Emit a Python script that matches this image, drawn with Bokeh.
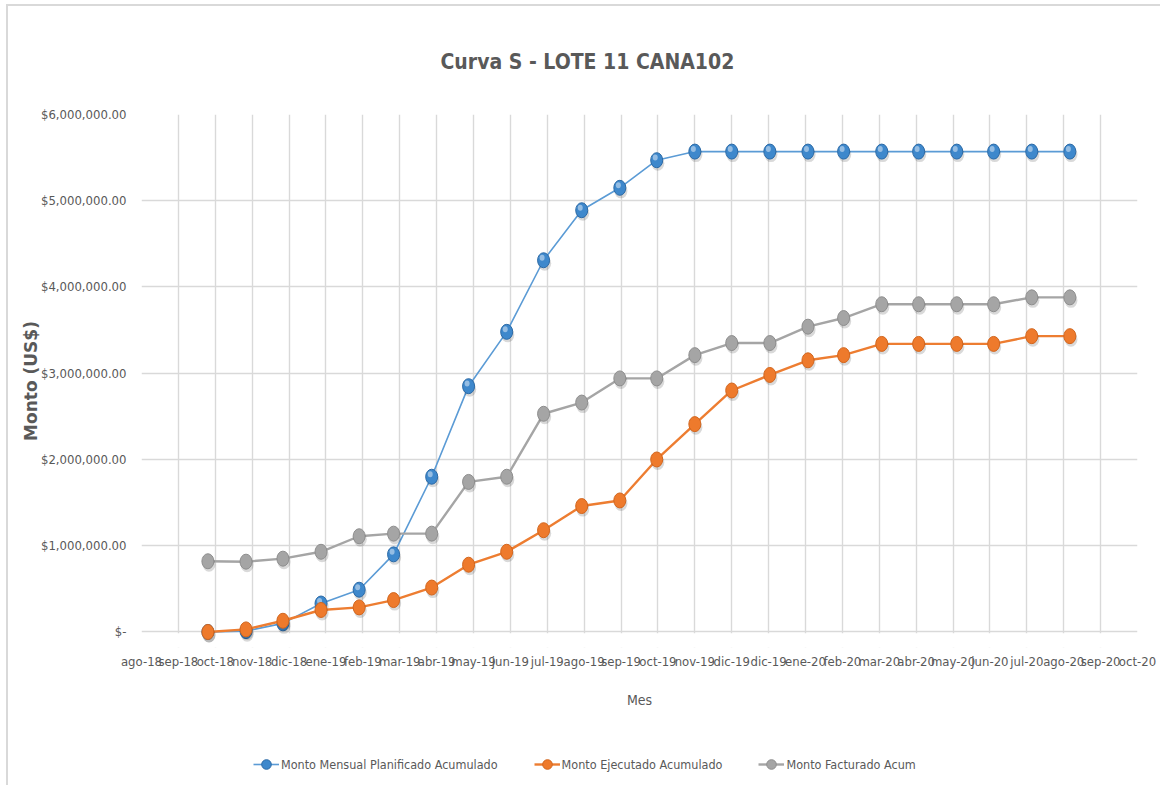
import numpy as np
from bokeh.plotting import figure
from bokeh.layouts import column
from bokeh.models import (Range1d, FixedTicker, NumeralTickFormatter, Legend,
                          LegendItem, BoxAnnotation, ColumnDataSource)
from bokeh.transform import dodge
from bokeh.embed import file_html
from bokeh.resources import INLINE

# ---------------- data ----------------
months = ["2018-10-01", "2018-11-01", "2018-12-01", "2019-01-01", "2019-02-01", "2019-03-01",
          "2019-04-01", "2019-05-01", "2019-06-01", "2019-07-01", "2019-08-01", "2019-09-01",
          "2019-10-01", "2019-11-01", "2019-12-01", "2020-01-01", "2020-02-01", "2020-03-01",
          "2020-04-01", "2020-05-01", "2020-06-01", "2020-07-01", "2020-08-01", "2020-09-01"]

planificado = [0, 10000, 100000, 330000, 490000, 900000, 1800000, 2850000, 3480000, 4310000,
               4890000, 5150000, 5470000, 5570000, 5570000, 5570000, 5570000, 5570000,
               5570000, 5570000, 5570000, 5570000, 5570000, 5570000]

ejecutado = [0, 30000, 130000, 255000, 285000, 370000, 515000, 780000, 930000, 1180000,
             1460000, 1525000, 2000000, 2410000, 2800000, 2980000, 3150000, 3210000,
             3340000, 3340000, 3340000, 3340000, 3430000, 3430000]

facturado = [820000, 815000, 850000, 930000, 1110000, 1140000, 1140000, 1740000, 1800000,
             2530000, 2660000, 2940000, 2940000, 3210000, 3350000, 3350000, 3540000, 3640000,
             3800000, 3800000, 3800000, 3800000, 3880000, 3880000]

series_names = ["Monto Mensual Planificado Acumulado", "Monto Ejecutado Acumulado",
                "Monto Facturado Acum"]

x_tick_labels = ["ago-18", "sep-18", "oct-18", "nov-18", "dic-18", "ene-19", "feb-19", "mar-19",
                 "abr-19", "may-19", "jun-19", "jul-19", "ago-19", "sep-19", "oct-19", "nov-19",
                 "dic-19", "dic-19", "ene-20", "feb-20", "mar-20", "abr-20", "may-20", "jun-20",
                 "jul-20", "ago-20", "sep-20", "oct-20"]
axis_start = "2018-08-08"     # first date tick of the Excel date axis
tick_step_days = 30           # major unit (days)

y_ticks = [0, 1000000, 2000000, 3000000, 4000000, 5000000, 6000000]

title_text = "Curva S - LOTE 11 CANA102"
x_title = "Mes"
y_title = "Monto (US$)"

# ---------------- derived ----------------
origin = np.datetime64(axis_start, "D")
xdays = (np.array(months, dtype="datetime64[D]") - origin).astype(int)
x_ticks = [i * tick_step_days for i in range(len(x_tick_labels))]

src = ColumnDataSource(dict(x=xdays, p=planificado, e=ejecutado, f=facturado))

FONT = "'DejaVu Sans Condensed', 'DejaVu Sans', sans-serif"
TXT = "#595959"

p = figure(frame_width=994, frame_height=531,
           min_border_left=133, min_border_right=25, min_border_top=94, min_border_bottom=100,
           x_range=Range1d(x_ticks[0], x_ticks[-1]), y_range=Range1d(-180000, 6000000),
           output_backend="svg", toolbar_location=None, title=title_text)
p.styles = {"border-left": "2px solid #D9D9D9", "border-top": "2px solid #D9D9D9",
            "margin-left": "6px", "margin-top": "4px"}

p.background_fill_color = "white"
p.border_fill_color = "white"
p.outline_line_color = None

p.title.align = "left"
p.title.offset = 299
p.title.standoff = 82
p.title.text_font = FONT
p.title.text_font_size = "21px"
p.title.text_font_style = "bold"
p.title.text_color = TXT

# axes
xa = p.xaxis[0]
xa.ticker = FixedTicker(ticks=x_ticks)
xa.major_label_overrides = {t: lab for t, lab in zip(x_ticks, x_tick_labels)}
xa.axis_line_color = None
xa.major_tick_line_color = None
xa.minor_tick_line_color = None
xa.major_label_standoff = 0
xa.major_label_text_font = FONT
xa.major_label_text_font_size = "13px"
xa.major_label_text_color = TXT
xa.axis_label = x_title
xa.axis_label_text_font = FONT
xa.axis_label_text_font_size = "14px"
xa.axis_label_text_font_style = "normal"
xa.axis_label_text_color = TXT
xa.axis_label_standoff = 20

ya = p.yaxis[0]
ya.ticker = FixedTicker(ticks=y_ticks)
ya.formatter = NumeralTickFormatter(format="$0,0.00")
ya.major_label_overrides = {0: "$-"}
ya.axis_line_color = None
ya.major_tick_line_color = None
ya.minor_tick_line_color = None
ya.major_label_standoff = 9
ya.major_label_text_font = FONT
ya.major_label_text_font_size = "13px"
ya.major_label_text_color = TXT
ya.axis_label = y_title
ya.axis_label_text_font = "DejaVu Sans"
ya.axis_label_text_font_size = "17px"
ya.axis_label_text_font_style = "bold"
ya.axis_label_text_color = TXT
ya.axis_label_standoff = -3

for g in (p.xgrid[0], p.ygrid[0]):
    g.grid_line_color = "#D9D9D9"
    g.grid_line_width = 1.4

# hide vertical grid lines below the zero line
p.add_layout(BoxAnnotation(top=-14000, fill_color="white", fill_alpha=1.0,
                           line_alpha=0, level="underlay"))

styles = [
    ("p", "#5B9BD5", 1.6, "#3E88CC", "#2C6AA6", True),
    ("e", "#ED7D31", 2.4, "#EE7A2C", "#D2661E", False),
    ("f", "#A5A5A5", 2.4, "#A5A5A5", "#8E8E8E", False),
]
for (col, lc, lw, fc, oc, gloss) in styles:
    p.line("x", col, source=src, line_color=lc, line_width=lw)
    p.ellipse(dodge("x", 0.9), dodge(col, -35000), width=13, height=15,
              width_units="screen", height_units="screen", source=src,
              fill_color="black", fill_alpha=0.15, line_color=None)
    p.ellipse("x", col, width=12, height=15, width_units="screen", height_units="screen",
              source=src, fill_color=fc, line_color=oc, line_width=1)
    if gloss:
        p.ellipse(dodge("x", -1.2), dodge(col, 30000), width=5, height=6,
                  width_units="screen", height_units="screen", source=src,
                  fill_color="white", fill_alpha=0.45, line_color=None)

# ---------------- legend strip (separate small figure below the chart) ----------------
# its ranges lie outside the data, so only the legend entries are visible
pl = figure(width=1150, height=40, min_border=0, toolbar_location=None, output_backend="svg",
            x_range=Range1d(-2, -1), y_range=Range1d(-2e7, -1e7),
            x_axis_location=None, y_axis_location=None)
pl.styles = {"border-left": "2px solid #D9D9D9", "margin-left": "6px"}
pl.grid.visible = False
pl.outline_line_color = None
pl.background_fill_color = "white"
pl.border_fill_color = "white"

items = []
for (col, lc, lw, fc, oc, gloss), name in zip(styles, series_names):
    lln = pl.line("x", col, source=src, line_color=lc, line_width=lw)
    lmk = pl.scatter("x", col, source=src, marker="circle", fill_color=fc, line_color=oc)
    items.append(LegendItem(label=name, renderers=[lln, lmk]))

legend = Legend(items=items, orientation="horizontal", location=(112, 9), margin=0,
                padding=0, spacing=36, glyph_width=26, glyph_height=24, label_standoff=2,
                border_line_color=None, background_fill_alpha=0,
                label_text_font=FONT, label_text_font_size="12.5px", label_text_color=TXT)
pl.add_layout(legend, "center")

layout = column(p, pl, spacing=0)
open("out.html", "w").write(file_html(layout, INLINE))
